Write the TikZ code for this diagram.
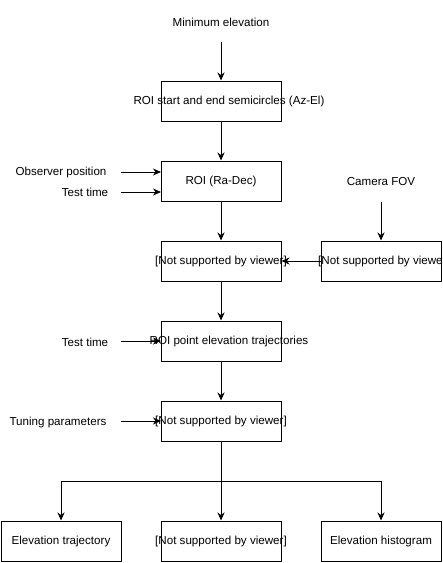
\documentclass[tikz,border=0pt]{standalone}
\usepackage{fontspec}
\setmainfont{Liberation Sans}
\usetikzlibrary{arrows.meta}
\begin{document}
\begin{tikzpicture}[x=1pt,y=-1pt,
  font=\fontsize{11.6}{14}\selectfont,
  box/.style={draw=black,line width=1pt,minimum width=120pt,minimum height=40pt,inner sep=0pt,fill=none},
  lbl/.style={inner sep=0pt},
  conn/.style={draw=black,line width=1pt,-{Stealth[length=8pt,width=7pt,inset=2.5pt]}},
  line/.style={draw=black,line width=1pt}]
\useasboundingbox (0,0) rectangle (443,563);
% boxes
\node[box] (semi) at (221,101) {};
\node[lbl] (semiT) at (229,101) {ROI start and end semicircles (Az-El)};
\node[box] (radec) at (221,181) {ROI (Ra-Dec)};
\node[box] (ns1) at (221,261) {};
\node[lbl] (ns1T) at (221,261) {[Not supported by viewer]};
\node[box] (fovbox) at (381,261) {};
\node[lbl] (fovT) at (384,261) {[Not supported by viewer]};
\node[box] (traj) at (221,341) {};
\node[lbl] (trajT) at (229,341) {ROI point elevation trajectories};
\node[box] (ns2) at (221,421) {};
\node[lbl] (ns2T) at (221,421) {[Not supported by viewer]};
\node[box] (etraj) at (61,541) {Elevation trajectory};
\node[box] (ns3) at (221,541) {};
\node[lbl] (ns3T) at (221,541) {[Not supported by viewer]};
\node[box] (ehist) at (381,541) {Elevation histogram};
% labels
\node[lbl] (minel) at (221,22) {Minimum elevation};
\node[lbl] (obs) at (61,172) {Observer position};
\node[lbl] (tt1) at (85,192) {Test time};
\node[lbl] (fov) at (381,182) {Camera FOV};
\node[lbl] (tt2) at (85,342) {Test time};
\node[lbl] (tune) at (58,422) {Tuning parameters};
% coordinates
\coordinate (minelS) at (221,42);
\coordinate (fovS) at (381,202);
\coordinate (obsS) at (121,172);
\coordinate (obsE) at (161,172);
\coordinate (tt1S) at (121,192);
\coordinate (tt1E) at (161,192);
\coordinate (tt2S) at (121,341);
\coordinate (tt2E) at (161,341);
\coordinate (tuneS) at (121,421);
\coordinate (tuneE) at (161,421);
\coordinate (split) at (221,481);
% connectors
\draw[conn] (minelS) -- (semi.north);
\draw[conn] (semi.south) -- (radec.north);
\draw[conn] (radec.south) -- (ns1.north);
\draw[conn] (fovS) -- (fovbox.north);
\draw[conn] (fovbox.west) -- (ns1.east);
\draw[conn] (ns1.south) -- (traj.north);
\draw[conn] (traj.south) -- (ns2.north);
\draw[conn] (obsS) -- (obsE);
\draw[conn] (tt1S) -- (tt1E);
\draw[conn] (tt2S) -- (tt2E);
\draw[conn] (tuneS) -- (tuneE);
\draw[conn] (ns2.south) -- (ns3.north);
\draw[conn] (split) -| (etraj.north);
\draw[conn] (split) -| (ehist.north);
\end{tikzpicture}
\end{document}
